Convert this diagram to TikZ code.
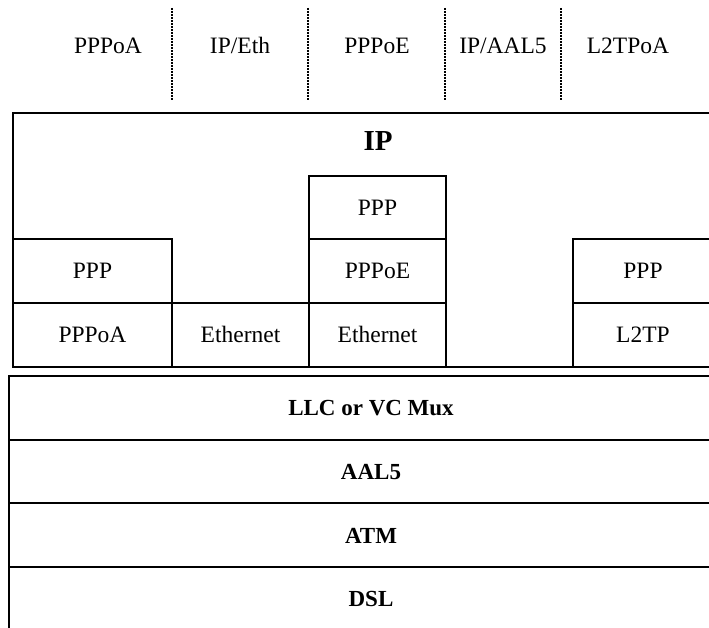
\documentclass[tikz,border=0pt]{standalone}
\usepackage{fontspec}
\setmainfont{Liberation Serif}
\usetikzlibrary{positioning}
\tikzset{basic/.style={draw,line width=2pt,rectangle,inner sep=0pt,
                       anchor=north west,text badly centered}}
\tikzset{word/.style={font=\fontsize{23.5}{27}\selectfont,
                      text height=15.5pt,text depth=0pt,inner sep=0pt}}
\tikzset{cell/.style={basic,word,minimum height=63.5pt}}
\tikzset{band/.style={basic,word,font=\fontsize{23}{27}\selectfont\bfseries,
                      minimum width=724pt,minimum height=63.7pt}}
\tikzset{divider/.style={densely dotted,line width=2pt}}

\begin{document}
\begin{tikzpicture}[x=1pt,y=-1pt]
    \useasboundingbox (0,0) rectangle (709,628);
    \clip (0,0) rectangle (709,628);
    % Encapsulation names on top
    \foreach \x/\h [count=\hi] in {108/PPPoA,240/{IP/Eth},377/PPPoE,503/{IP/AAL5},628/L2TPoA}{%
        \node[word] (enc\hi) at (\x,46) {\h};
      }
    % Dotted separators between the names
    \foreach \x [count=\si] in {172,308,445,561}{%
        \coordinate (s\si a) at (\x,8);
        \coordinate (s\si b) at (\x,100);
        \draw[divider] (s\si a) -- (s\si b);
      }
    % IP layer box
    \node[basic,minimum width=732pt,minimum height=253.5pt] (ip) at (12,112) {};
    \node[word,font=\fontsize{29}{34}\selectfont\bfseries,text height=19.5pt] (iplabel) at (378,141) {IP};
    % PPPoA column
    \node[cell,minimum width=159pt] (ppp1) at (12,238.5) {PPP};
    \node[cell,minimum width=159pt] (pppoa) at (12,302) {PPPoA};
    % IP over Ethernet column
    \node[cell,minimum width=137pt] (eth1) at (171,302) {Ethernet};
    % PPPoE column
    \node[cell,minimum width=137pt] (ppp2) at (308,175) {PPP};
    \node[cell,minimum width=137pt] (pppoe) at (308,238.5) {PPPoE};
    \node[cell,minimum width=137pt] (eth2) at (308,302) {Ethernet};
    % L2TP column
    \node[cell,minimum width=140pt] (ppp3) at (572,238.5) {PPP};
    \node[cell,minimum width=140pt] (l2tp) at (572,302) {L2TP};
    % Lower layers
    \foreach \h [count=\hi] in {LLC or VC Mux,AAL5,ATM,DSL}{%
        \node[band] (band\hi) at (8,{375+(\hi-1)*63.7}) {\h};
      }
\end{tikzpicture}
\end{document}
